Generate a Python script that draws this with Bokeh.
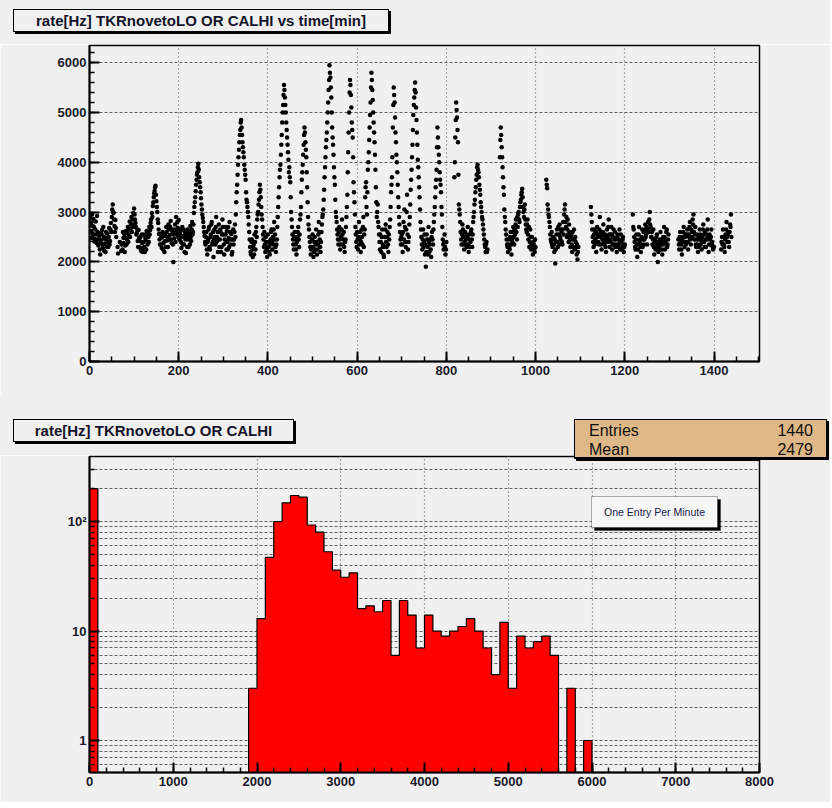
import numpy as np
from bokeh.plotting import figure
from bokeh.models import (Label, BoxAnnotation, FixedTicker, SingleIntervalTicker,
                          Range1d, ColumnDataSource, Div)
from bokeh.layouts import column
from bokeh.embed import file_html
from bokeh.resources import INLINE

# ---------------- data ----------------
title_top = "rate[Hz] TKRnovetoLO OR CALHI vs time[min]"
title_bottom = "rate[Hz] TKRnovetoLO OR CALHI"
legend_text = "One Entry Per Minute"
stats_names = ["Entries", "Mean"]
stats_values = ["1440", "2479"]

# rate, one value per minute (None = no rate / dead time)
# even minutes 0, 2, 4, ...
minutes_even = list(range(0, 1440, 2))
rate_even = [
    2750, 2880, 2620, 2950, 2540, 2700, 2460, 2810, 2380, 2600,
    2330, 2520, 2150, 2440, 2640, 2280, 2510, 2360, 2200, 2480,
    2570, 2300, 2680, 2420, 2780, 2900, 3150, 2980, 2720, 2840,
    2500, None, 2170, None, 2400, None, 2350, 2250, 2480, 2560,
    2330, 2620, 2450, 2700, 2540, 2810, 2660, 2900, 2750, 2980,
    3070, 2850, 2700, 2580, 2420, 2640, 2300, 2500, 2220, 2380,
    2280, 2550, 2200, 2430, 2620, 2350, 2500, 2700, 2640, 2850,
    2980, 3120, 3300, 3430, 3530, 3220, 3000, 2780, 2560, 2350,
    2480, 2280, 2600, 2380, 2200, 2520, 2700, 2430, 2300, 2650,
    2540, 2820, 2380, 2600, 2000, 2470, 2750, 2900, 2560, 2680,
    2840, 2450, 2620, 2280, 2700, 2520, 2350, 2600, 2180, 2480,
    2650, 2300, 2540, 2720, 2420, 2800, 2600, 2980, 3200, 3420,
    3650, 3800, 3970, 3700, 3500, 3280, 3050, 2880, 2700, 2520,
    2350, 2600, 2150, 2450, 2700, 2250, 2550, 2800, 2400, 2100,
    2650, 2350, 2900, 2500, 2200, 2750, 2450, 2600, 2300, 2850,
    2550, 2150, 2700, 2400, 2620, 2250, 2480, 2800, 2350, 2560,
    2200, 2650, 2450, 2750, 2950, 3400, 3750, 4100, 4400, 4650,
    4850, 4550, 4300, 4100, 3850, 3650, 3250, 3100, 2900, 2600,
    2300, 2150, 2450, 2100, 2350, 2550, 2250, 2700, 2850, 3000,
    3250, 3550, 3300, 2950, 2700, 2450, 2600, 2200, 2400, 2100,
    2550, 2300, 2150, 2450, 2650, 2250, 2350, 2800, 2550, 2200,
    2450, 2900, 3300, 3700, 3950, 4350, 4800, 5150, 5550, 5300,
    5000, 4650, 4350, 4050, 3900, 3600, 3000, 2700, 2450, 2250,
    2600, 2350, 2150, 2500, 2700, 2300, 2850, 3100, 3650, 3950,
    4350, 4700, 4400, 4100, 3500, 2900, 2650, 2400, 2150, 2300,
    2550, 2100, 2400, 2250, 2650, 2150, 2350, 2800, 2450, 2200,
    2600, 2900, 3050, 3450, 3900, 4300, 4600, 5000, 5450, 5950,
    5700, 5300, 4700, 4350, 3900, 3550, 3000, 2800, 2550, 2350,
    2700, 2250, 2500, 2850, 2350, 2600, 2200, 2450, 2900, 3350,
    4200, 5000, 5650, 5350, 4800, 4500, 3600, 3200, 2700, 2400,
    2600, 2250, 2800, 2450, 2200, 2650, 2350, 2900, 2550, 3300,
    3600, 2950, 3850, 4200, 4700, 5200, 5800, 5450, 5000, 4600,
    4150, 3500, 2900, 3150, 2700, 2400, 2550, 2200, 2650, 2350,
    2100, 2500, 2750, 2300, 2600, 2200, 2450, 2850, 3400, 3700,
    4700, 5500, 5200, 4600, 4150, 3800, 3300, 2900, 2600, 2350,
    2550, 2200, 2800, 3050, 2400, 2650, 3350, 2250, 2500, 2900,
    3450, 3850, 4350, 4950, 5300, 5600, 5100, 4600, 4050, 3700,
    3300, 2800, 2500, 2250, 2650, 2400, 2150, 1900, 2550, 2300,
    2700, 2200, 2450, 2100, 2600, 2350, 2800, 3100, 3500, 3850,
    4700, 4300, 4000, 3650, 3400, 2950, 2450, 2250, 2550, 2150,
    2400, None, None, None, None, None, None, None, None, 3700,
    4500, 5200, 4900, 4400, 3150, 2950, 2600, 2350, 2750, 2500,
    2250, 2600, 2450, 2300, 2700, 2200, 2550, 2400, 2650, 2300,
    2800, 3000, 3250, 3500, 3750, 3950, 3800, 3550, 3350, 3100,
    2900, 2750, 2550, 2350, 2200, 2400, 2250, None, None, None,
    None, None, None, None, None, None, None, None, None, None,
    4100, 4700, 4300, 3900, 3500, 3050, 2800, 2550, 2350, 2200,
    2450, 2250, 2600, 2150, 2400, 2700, 2350, 2550, 2850, 2450,
    2700, 3000, 2800, 3200, 3350, 3470, 3100, 2900, 3150, 2750,
    2600, 2850, 2450, 2300, 2650, 2250, 2500, 2150, 2350, 2200,
    2300, None, None, None, None, None, None, None, None, None,
    None, None, 3650, 3480, 3050, 2900, 2700, 2450, 2600, 2300,
    2500, 2200, 1970, 2400, 2650, 2300, 2550, 2750, 2450, 2600,
    2350, 2800, 2950, 3150, 2700, 2500, 2850, 2400, 2600, 2300,
    2550, 2200, 2450, 2650, 2250, 2400, 2150, 2050, 2300, None,
    None, None, None, None, None, None, None, None, None, None,
    None, None, 3100, 2800, 2500, 2300, 2650, 2450, 2200, 2700,
    2550, 2350, 2900, 2600, 2250, 2450, 2750, 2350, 2550, 2200,
    2650, 2400, 2850, 2300, 2550, 2700, 2250, 2500, 2350, 2600,
    2450, 2200, 2550, 2350, 2650, 2250, 2400, 2300, 2500, 2200,
    2350, None, None, None, None, None, None, None, None, 2950,
    2650, 2400, 2250, 2550, 2100, 2350, 2700, 2450, 2200, 2500,
    2300, 2600, 2450, 2750, 2550, 2350, 2800, 2600, 3000, 2700,
    2500, 2350, 2650, 2150, 2450, 2300, 2550, 2000, 2400, 2250,
    2600, 2350, 2150, 2500, 2700, 2250, 2450, 2650, 2350, 2550,
    None, None, None, None, None, None, None, None, None, None,
    2450, 2250, 2600, 2350, 2150, 2500, 2700, 2300, 2550, 2400,
    2650, 2250, 2500, 2800, 2350, 2600, 2850, 2950, 2450, 2700,
    2300, 2550, 2200, 2450, 2650, 2350, 2250, 2500, 2750, 2400,
    2600, 2300, 2450, 2850, 2200, 2550, 2350, 2650, 2400, 2250,
    2300, None, None, None, None, None, None, None, 2250, 2500,
    2650, 2350, 2200, 2550, 2800, 2400, 2600, 2300, 2750, 2950,
]
# odd minutes 1, 3, 5, ...
minutes_odd = list(range(1, 1440, 2))
rate_odd = [
    2600, 2790, 2480, 2720, 2860, 2410, 2650, 2550, 2920, 2450,
    2580, 2250, 2380, 2560, 2350, 2700, 2220, 2450, 2600, 2300,
    2400, 2500, 2350, 2650, 2600, 3050, 3000, 2850, 2600, 2680,
    None, 2300, None, None, None, 2220, None, 2600, 2380, 2200,
    2480, 2350, 2580, 2400, 2650, 2500, 2750, 2600, 2850, 2700,
    2950, 2780, 2550, 2650, 2300, 2480, 2420, 2250, 2550, 2200,
    2400, 2300, 2480, 2250, 2500, 2580, 2400, 2550, 2780, 2700,
    2900, 3200, 3380, 3500, 3350, 3100, 2850, 2650, 2450, 2550,
    2350, 2500, 2250, 2550, 2420, 2300, 2600, 2500, 2750, 2450,
    2700, 2450, 2650, 2350, 2550, 2650, 2400, 2600, 2800, 2500,
    2650, 2550, 2400, 2500, 2350, 2650, 2200, 2450, 2550, 2300,
    2450, 2600, 2350, 2500, 2650, 2550, 2750, 3100, 3300, 3550,
    3750, 3900, 3850, 3600, 3400, 3150, 2950, 2800, 2600, 2400,
    2500, 2250, 2400, 2650, 2300, 2500, 2750, 2350, 2600, 2450,
    2500, 2700, 2400, 2600, 2450, 2300, 2650, 2200, 2550, 2700,
    2350, 2450, 2550, 2250, 2400, 2700, 2300, 2600, 2450, 2150,
    2450, 2350, 2600, 2500, 3200, 3550, 3950, 4250, 4550, 4800,
    4700, 4400, 4200, 3950, 3750, 3400, 3200, 3000, 2750, 2450,
    2200, 2400, 2250, 2300, 2150, 2400, 2600, 2500, 2950, 3150,
    3400, 3450, 3100, 2850, 2550, 2300, 2350, 2500, 2250, 2300,
    2400, 2200, 2350, 2600, 2400, 2500, 2650, 2450, 2300, 2350,
    2700, 3100, 3500, 3850, 4150, 4550, 5000, 5350, 5450, 5150,
    4800, 4500, 4200, 3800, 3700, 3300, 2850, 2550, 2350, 2500,
    2450, 2250, 2400, 2600, 2450, 2550, 2950, 3400, 3800, 4150,
    4550, 4600, 4250, 3800, 3200, 2750, 2500, 2300, 2250, 2450,
    2300, 2200, 2500, 2350, 2400, 2250, 2550, 2600, 2300, 2400,
    2750, 2950, 3250, 3700, 4100, 4450, 4800, 5200, 5650, 5800,
    5500, 5000, 4500, 4150, 3700, 3250, 2900, 2650, 2450, 2600,
    2450, 2350, 2650, 2550, 2450, 2300, 2400, 2700, 3100, 3800,
    4600, 5400, 5550, 5100, 4650, 4100, 3400, 2950, 2550, 2300,
    2450, 2500, 2350, 2600, 2400, 2500, 2700, 2300, 2650, 3500,
    3100, 3400, 4000, 4450, 4950, 5500, 5650, 5250, 4800, 4400,
    3850, 3200, 3000, 2800, 2550, 2250, 2400, 2500, 2300, 2150,
    2300, 2650, 2400, 2500, 2350, 2550, 2700, 3100, 3550, 4100,
    5150, 5350, 4900, 4400, 4000, 3550, 3100, 2750, 2450, 2500,
    2350, 2600, 2450, 2700, 2300, 3000, 2550, 2400, 2750, 3150,
    3650, 4100, 4650, 5150, 5450, 5400, 4850, 4350, 3900, 3500,
    3050, 2650, 2350, 2450, 2300, 2550, 2350, 2200, 2450, 2150,
    2400, 2350, 2250, 2500, 2450, 2650, 2950, 3300, 3650, 4300,
    4500, 4150, 3800, 3550, 3100, 2700, 2350, 2400, 2300, 2250,
    None, None, None, None, None, None, None, None, None, 4000,
    4850, 5050, 4650, 3750, 3050, 2800, 2450, 2550, 2650, 2350,
    2400, 2350, 2550, 2500, 2350, 2450, 2300, 2600, 2450, 2550,
    2900, 3150, 3400, 3650, 3900, 3850, 3700, 3450, 3200, 3000,
    2850, 2650, 2450, 2300, 2350, 2200, None, None, None, None,
    None, None, None, None, None, None, None, None, None, None,
    4450, 4550, 4100, 3700, 3350, 2900, 2650, 2450, 2300, 2350,
    2300, 2500, 2350, 2450, 2600, 2500, 2650, 2750, 2600, 2900,
    2950, 2850, 3100, 3250, 3400, 3300, 3000, 3050, 2850, 2650,
    2750, 2550, 2700, 2400, 2500, 2350, 2300, 2400, 2250, 2450,
    None, None, None, None, None, None, None, None, None, None,
    None, None, 3550, 3150, 2950, 2800, 2550, 2400, 2350, 2500,
    2350, 2450, 2250, 2550, 2400, 2700, 2350, 2500, 2650, 2400,
    2650, 2550, 3050, 2800, 2900, 2650, 2550, 2750, 2450, 2500,
    2350, 2600, 2300, 2450, 2500, 2300, 2350, 2200, None, None,
    None, None, None, None, None, None, None, None, None, None,
    None, None, 2950, 2650, 2400, 2550, 2350, 2600, 2400, 2500,
    2400, 2650, 2500, 2350, 2550, 2600, 2400, 2500, 2300, 2450,
    2500, 2700, 2550, 2450, 2400, 2550, 2350, 2650, 2450, 2300,
    2350, 2500, 2300, 2450, 2400, 2550, 2250, 2450, 2350, 2300,
    None, None, None, None, None, None, None, None, None, 2700,
    2500, 2300, 2450, 2350, 2250, 2550, 2400, 2300, 2350, 2650,
    2450, 2350, 2650, 2500, 2700, 2600, 2650, 2850, 2750, 2500,
    2600, 2450, 2300, 2400, 2250, 2500, 2350, 2200, 2300, 2450,
    2400, 2250, 2450, 2350, 2500, 2400, 2600, 2300, 2450, None,
    None, None, None, None, None, None, None, None, None, None,
    2350, 2500, 2400, 2250, 2450, 2600, 2400, 2500, 2350, 2550,
    2400, 2550, 2700, 2450, 2650, 2500, 2750, 2600, 2550, 2350,
    2450, 2350, 2500, 2300, 2550, 2450, 2400, 2650, 2550, 2300,
    2450, 2550, 2650, 2500, 2350, 2450, 2500, 2350, 2300, None,
    None, None, None, None, None, None, None, None, 2400, 2350,
    2500, 2300, 2450, 2650, 2500, 2550, 2400, 2600, 2700, 2500,
]
assert len(rate_even) == len(minutes_even), len(rate_even)
assert len(rate_odd) == len(minutes_odd), len(rate_odd)

# histogram: 100 Hz bins starting at 0
bin_width = 100
bin_counts = [
    200, 0, 0, 0, 0, 0, 0, 0, 0, 0,
    0, 0, 0, 0, 0, 0, 0, 0, 0, 3,
    13, 47, 100, 148, 173, 167, 93, 80, 53, 36,
    31, 34, 16, 17, 15, 19, 6, 19, 14, 7,
    14, 10, 9, 10, 11, 13, 10, 7, 4, 12,
    3, 9, 7, 8, 9, 6, 0, 3, 0, 1,
]
log_major = [1, 10, 100]
log_minor = [0.6, 0.7, 0.8, 0.9, 2, 3, 4, 5, 6, 7, 8, 9,
             20, 30, 40, 50, 60, 70, 80, 90, 200, 300]

# ---------------- style / geometry ----------------
BG = "#f0f0f0"
FONT = "Liberation Sans"
GRID = "#626262"
W = 830
FRAME_L, FRAME_W, FRAME_H = 89, 670, 316
X2 = (0, 8000)
Y2 = (0.51, 393)


def style_axes(p):
    for ax in (p.xaxis[0], p.yaxis[0]):
        ax.axis_line_width = 2
        ax.axis_line_color = "black"
        ax.major_tick_in = 10
        ax.major_tick_out = 0
        ax.minor_tick_in = 5
        ax.minor_tick_out = 0
        ax.major_tick_line_width = 2
        ax.minor_tick_line_width = 1.5
        ax.major_label_text_font = FONT
        ax.major_label_text_font_style = "bold"
        ax.major_label_text_font_size = "13px"
        ax.major_label_text_color = "#1a1a2a"
    p.xaxis.major_label_standoff = 4
    p.yaxis.major_label_standoff = 3
    p.outline_line_color = "black"
    p.outline_line_width = 1.5
    p.xgrid.grid_line_color = GRID
    p.xgrid.grid_line_dash = "1 3"
    p.xgrid.grid_line_width = 1.2
    p.ygrid.grid_line_color = GRID
    p.ygrid.grid_line_dash = "3 2"
    p.ygrid.grid_line_width = 1


def box_html(left, top, width, height, inner, fill=BG, extra=""):
    return (f'<div style="position:absolute;left:{left}px;top:{top}px;width:{width}px;'
            f'height:{height}px;box-sizing:border-box;border:1px solid #000;'
            f'box-shadow:2px 2px 0 #000;background:{fill};{extra}">{inner}</div>')


def title_html(left, top, width, height, text):
    inner = (f'<div style="position:absolute;left:0;right:0;top:0;bottom:0;text-align:center;'
             f'font-family:\'{FONT}\';font-weight:bold;font-size:15px;line-height:{height - 2}px;'
             f'color:#15152a;white-space:nowrap;">{text}</div>')
    return box_html(left, top, width, height, inner)


def header_div(height, content):
    html = (f'<div style="position:relative;width:{W}px;height:{height}px;background:{BG};'
            f'overflow:visible;">{content}</div>')
    return Div(text=html, width=W, height=height, margin=0,
               styles={"background-color": BG, "overflow": "visible",
                       "z-index": "5", "position": "relative"})


# ---------------- top panel ----------------
h1 = header_div(44, title_html(13, 9, 376, 23, title_top))

p1 = figure(width=W, height=351, x_range=Range1d(0, 1502), y_range=Range1d(0, 6345),
            output_backend="svg", toolbar_location=None,
            min_border_left=FRAME_L, min_border_right=W - FRAME_L - FRAME_W,
            min_border_top=1, min_border_bottom=34,
            background_fill_color=BG, border_fill_color=BG)
p1.xaxis.ticker = SingleIntervalTicker(interval=200, num_minor_ticks=4)
p1.yaxis.ticker = SingleIntervalTicker(interval=1000, num_minor_ticks=5)
style_axes(p1)

src = ColumnDataSource(dict(t=minutes_even + minutes_odd,
                            r=np.array(rate_even + rate_odd, dtype=float)))
p1.scatter("t", "r", source=src, size=4.5, color="black", line_width=0)

# ---------------- bottom panel ----------------
stats_rows = ""
for i, (nm, val) in enumerate(zip(stats_names, stats_values)):
    top = 2 + 19 * i
    stats_rows += (f'<div style="position:absolute;left:14px;right:13px;top:{top}px;height:18px;'
                   f'font-family:\'{FONT}\';font-size:16px;line-height:18px;color:#101010;">'
                   f'<span style="float:left">{nm}</span><span style="float:right">{val}</span></div>')
h2_content = (title_html(13, 24, 281, 23, title_bottom)
              + box_html(574, 24, 253, 39, stats_rows, fill="#deb887", extra="overflow:hidden;"))
h2 = header_div(60, h2_content)

p2 = figure(width=W, height=347, x_range=Range1d(*X2), y_range=Range1d(*Y2),
            y_axis_type="log", output_backend="svg", toolbar_location=None,
            min_border_left=FRAME_L, min_border_right=W - FRAME_L - FRAME_W,
            min_border_top=1, min_border_bottom=30,
            background_fill_color=BG, border_fill_color=BG)
p2.xaxis.ticker = SingleIntervalTicker(interval=1000, num_minor_ticks=5)
p2.yaxis.ticker = FixedTicker(ticks=log_major, minor_ticks=log_minor)
p2.yaxis.major_label_overrides = {1: "1", 10: "10", 100: "10\u00b2"}
style_axes(p2)
p2.ygrid.minor_grid_line_color = GRID
p2.ygrid.minor_grid_line_dash = "3 2"
p2.ygrid.minor_grid_line_width = 1

# step outline of the histogram
FLOOR = 0.01
xs, ys = [0], [FLOOR]
for i, c in enumerate(bin_counts):
    hgt = c if c > 0 else FLOOR
    xs += [i * bin_width, (i + 1) * bin_width]
    ys += [hgt, hgt]
xs.append(len(bin_counts) * bin_width)
ys.append(FLOOR)
p2.patch(xs, ys, fill_color="#ff0000", line_color=None)
p2.line(xs, ys, line_color="black", line_width=1.2)


# pixel helpers for the part of the stats box overlapping the frame
def px_to_x(px):
    return X2[0] + (px - FRAME_L) / FRAME_W * (X2[1] - X2[0])


def px_to_y(dpx):
    lo, hi = np.log10(Y2[0]), np.log10(Y2[1])
    return 10 ** (hi - dpx / FRAME_H * (hi - lo))


p2.quad(left=px_to_x(576), right=px_to_x(840), top=2000, bottom=px_to_y(4),
        fill_color="black", line_color="black")
p2.quad(left=px_to_x(574), right=px_to_x(826.5), top=2000, bottom=px_to_y(2),
        fill_color="#deb887", line_color="black", line_width=1)

# legend box inside the frame
p2.add_layout(BoxAnnotation(left=505, right=631, top=273, bottom=242,
                            left_units="screen", right_units="screen",
                            top_units="screen", bottom_units="screen",
                            fill_color="black", fill_alpha=1, line_color="black"))
p2.add_layout(BoxAnnotation(left=502, right=628, top=276, bottom=245,
                            left_units="screen", right_units="screen",
                            top_units="screen", bottom_units="screen",
                            fill_color="#f7f7f7", fill_alpha=1, line_color="black", line_width=1))
p2.add_layout(Label(x=565, y=261, x_units="screen", y_units="screen", text=legend_text,
                    text_font=FONT, text_font_size="10.5px", text_color="#20204a",
                    text_align="center", text_baseline="middle"))

layout = column(h1, p1, h2, p2, spacing=0)
open("out.html", "w").write(file_html(layout, INLINE))
